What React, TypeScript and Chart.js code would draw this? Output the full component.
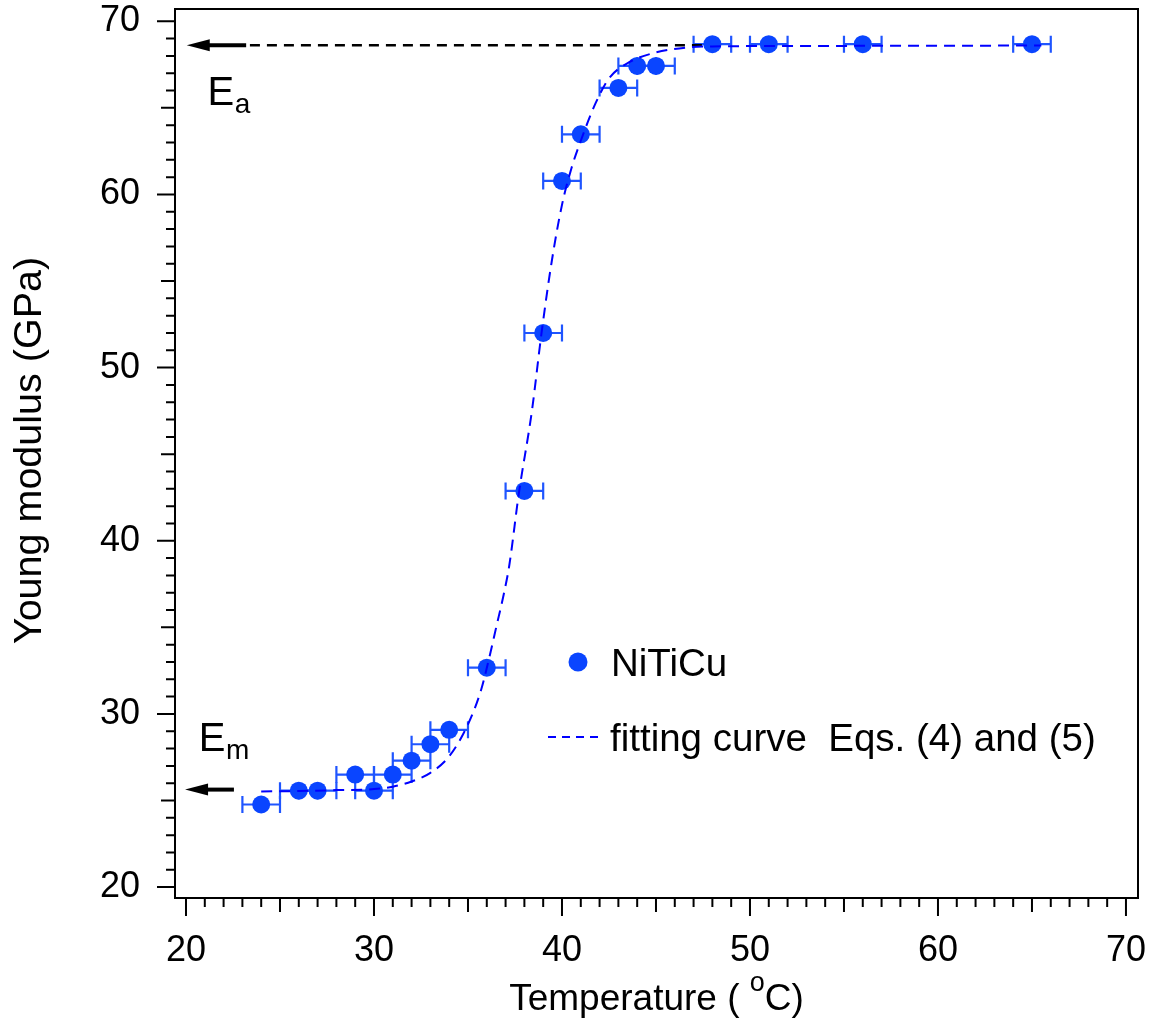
import React, { useEffect, useRef } from 'react';
import { Chart, registerables } from 'chart.js';

Chart.register(...registerables);

// ---- data ----
const tempC = [24, 26, 27, 29, 30, 31, 32, 33, 34, 36, 38, 39, 40, 41, 43, 44, 45, 48, 51, 56, 65];
const modulus = [24.77, 25.57, 25.57, 26.5, 25.57, 26.5, 27.3, 28.25, 29.08, 32.67, 42.88, 52.0, 60.78, 63.47, 66.15, 67.42, 67.42, 68.68, 68.68, 68.68, 68.68];
const tempErr = [1, 1, 1, 1, 1, 1, 1, 1, 1, 1, 1, 1, 1, 1, 1, 1, 1, 1, 1, 1, 1];

const fitT = [24, 26, 28, 30, 31, 32, 33, 34, 35, 35.7, 36.1, 36.5, 36.9, 37.2, 37.7, 38.4, 38.9, 39.45, 40.0, 40.5, 41.0, 41.8, 42.5, 43.6, 45.0, 46.8, 48, 55, 65.5];
const fitE = [25.52, 25.55, 25.6, 25.66, 25.8, 26.1, 26.6, 27.55, 29.4, 31.4, 33.1, 35.0, 36.9, 38.6, 42.7, 47.5, 51.9, 56.1, 59.4, 61.5, 63.1, 65.3, 66.7, 67.65, 68.2, 68.5, 68.55, 68.58, 68.6];

const refLineT = [23.4, 48];
const refLineE = [68.62, 68.62];

const arrowTailT = [23.2, 22.55];
const arrowTipT = [20.04, 19.95];
const arrowE = [68.62, 25.63];

const xTickLabels = [20, 30, 40, 50, 60, 70];
const yTickLabels = [20, 30, 40, 50, 60, 70];

const X_MIN = 19.415;
const X_MAX = 70.64;
const Y_MIN = 19.37;
const Y_MAX = 70.71;

const seriesName = 'NiTiCu';
const fitName = 'fitting curve  Eqs. (4) and (5)';
const xTitle = 'Temperature ( ';
const xTitleSup = 'o';
const xTitleEnd = 'C)';
const yTitle = 'Young modulus (GPa)';

const FONT = '"Liberation Sans", Arial, Helvetica, sans-serif';
const MARKER = '#0a45ff';
const ERRBAR = '#1f55ff';
const FIT = '#0000ff';

const extrasPlugin = {
  id: 'extras',
  beforeDatasetsDraw(chart: any) {
    const ctx = chart.ctx;
    const xs = chart.scales.x;
    const ys = chart.scales.y;
    ctx.save();
    ctx.strokeStyle = ERRBAR;
    ctx.lineWidth = 2.2;
    for (let i = 0; i < tempC.length; i++) {
      const x0 = xs.getPixelForValue(tempC[i] - tempErr[i]);
      const x1 = xs.getPixelForValue(tempC[i] + tempErr[i]);
      const y = ys.getPixelForValue(modulus[i]);
      ctx.beginPath();
      ctx.moveTo(x0, y);
      ctx.lineTo(x1, y);
      ctx.moveTo(x0, y - 8.5);
      ctx.lineTo(x0, y + 8.5);
      ctx.moveTo(x1, y - 8.5);
      ctx.lineTo(x1, y + 8.5);
      ctx.stroke();
    }
    ctx.restore();
  },
  afterDatasetsDraw(chart: any) {
    const ctx = chart.ctx;
    const xs = chart.scales.x;
    const ys = chart.scales.y;
    const a = chart.chartArea;
    ctx.save();

    // arrows
    ctx.fillStyle = '#000';
    ctx.strokeStyle = '#000';
    for (let i = 0; i < arrowE.length; i++) {
      const tx = xs.getPixelForValue(arrowTailT[i]);
      const hx = xs.getPixelForValue(arrowTipT[i]);
      const y = ys.getPixelForValue(arrowE[i]);
      const headLen = 23;
      ctx.lineWidth = 4;
      ctx.beginPath();
      ctx.moveTo(tx, y);
      ctx.lineTo(hx + headLen - 2, y);
      ctx.stroke();
      ctx.beginPath();
      ctx.moveTo(hx, y);
      ctx.lineTo(hx + headLen, y - 6);
      ctx.lineTo(hx + headLen, y + 6);
      ctx.closePath();
      ctx.fill();
    }

    // frame
    ctx.lineWidth = 2;
    ctx.strokeStyle = '#000';
    ctx.strokeRect(a.left, a.top, a.right - a.left, a.bottom - a.top);

    // tick marks
    ctx.beginPath();
    for (let v = 20; v <= 70; v++) {
      const len = v % 10 === 0 ? 18 : v % 5 === 0 ? 14 : 9;
      const px = xs.getPixelForValue(v);
      ctx.moveTo(px, a.bottom);
      ctx.lineTo(px, a.bottom + len);
      const py = ys.getPixelForValue(v);
      ctx.moveTo(a.left, py);
      ctx.lineTo(a.left - len, py);
    }
    ctx.stroke();

    // E labels
    ctx.fillStyle = '#000';
    ctx.textBaseline = 'alphabetic';
    ctx.textAlign = 'left';
    const drawE = (sub: string, xv: number, yv: number, subDrop: number) => {
      const x = xs.getPixelForValue(xv);
      const y = ys.getPixelForValue(yv);
      ctx.font = `40px ${FONT}`;
      ctx.fillText('E', x, y);
      const w = ctx.measureText('E').width;
      ctx.font = `28px ${FONT}`;
      ctx.fillText(sub, x + w + 0.5, y + subDrop);
    };
    drawE('a', 21.15, 65.15, 8);
    drawE('m', 20.68, 27.84, 8);

    // legend
    ctx.fillStyle = MARKER;
    ctx.beginPath();
    ctx.arc(578, 662, 9.5, 0, Math.PI * 2);
    ctx.fill();
    ctx.fillStyle = '#000';
    ctx.font = `38.5px ${FONT}`;
    ctx.fillText(seriesName, 611, 675.5);
    ctx.strokeStyle = FIT;
    ctx.lineWidth = 2;
    ctx.setLineDash([8, 6]);
    ctx.beginPath();
    ctx.moveTo(548, 737);
    ctx.lineTo(600, 737);
    ctx.stroke();
    ctx.setLineDash([]);
    ctx.fillText(fitName, 610, 750.5);

    // x title
    const cx = (a.left + a.right) / 2;
    ctx.font = `37px ${FONT}`;
    const w1 = ctx.measureText(xTitle).width;
    const w3 = ctx.measureText(xTitleEnd).width;
    ctx.font = `27px ${FONT}`;
    const w2 = ctx.measureText(xTitleSup).width;
    const total = w1 + w2 + w3;
    const x0 = cx - total / 2;
    const base = 1010;
    ctx.font = `37px ${FONT}`;
    ctx.fillText(xTitle, x0, base);
    ctx.font = `27px ${FONT}`;
    ctx.fillText(xTitleSup, x0 + w1, base - 19);
    ctx.font = `37px ${FONT}`;
    ctx.fillText(xTitleEnd, x0 + w1 + w2, base);

    // y title
    ctx.save();
    ctx.translate(30, (a.top + a.bottom) / 2 - 3);
    ctx.rotate(-Math.PI / 2);
    ctx.font = `39.5px ${FONT}`;
    ctx.textAlign = 'center';
    ctx.textBaseline = 'middle';
    ctx.fillText(yTitle, 0, 0);
    ctx.restore();

    ctx.restore();
  },
};

export default function App() {
  const ref = useRef<HTMLCanvasElement | null>(null);
  useEffect(() => {
    if (!ref.current) return;
    const pts = tempC.map((t, i) => ({ x: t, y: modulus[i] }));
    const fit = fitT.map((t, i) => ({ x: t, y: fitE[i] }));
    const refl = refLineT.map((t, i) => ({ x: t, y: refLineE[i] }));
    const chart = new Chart(ref.current, {
      type: 'line',
      data: {
        datasets: [
          {
            label: fitName,
            data: fit,
            borderColor: FIT,
            borderWidth: 2,
            borderDash: [11, 7],
            pointRadius: 0,
            fill: false,
            cubicInterpolationMode: 'monotone',
            order: 0,
          },
          {
            label: seriesName,
            data: pts,
            showLine: false,
            pointRadius: 9,
            pointBackgroundColor: MARKER,
            pointBorderWidth: 0,
            borderColor: MARKER,
            backgroundColor: MARKER,
            order: 1,
          },
          {
            label: 'Ea',
            data: refl,
            borderColor: '#000',
            borderWidth: 2.5,
            borderDash: [10, 7],
            pointRadius: 0,
            fill: false,
            order: 2,
          },
        ],
      } as any,
      options: {
        responsive: false,
        animation: false,
        devicePixelRatio: 1,
        layout: { padding: { left: 0, right: 16, top: 7, bottom: 0 } },
        plugins: { legend: { display: false }, tooltip: { enabled: false } },
        events: [],
        scales: {
          x: {
            type: 'linear',
            min: X_MIN,
            max: X_MAX,
            grid: { display: false },
            border: { display: false },
            ticks: { font: { family: FONT, size: 36 }, color: '#000', padding: 23, maxRotation: 0 },
            afterBuildTicks: (s: any) => {
              s.ticks = xTickLabels.map((v) => ({ value: v }));
            },
            afterFit: (s: any) => {
              s.height = 127;
              s.paddingLeft = 0;
              s.paddingRight = 0;
            },
          },
          y: {
            type: 'linear',
            min: Y_MIN,
            max: Y_MAX,
            grid: { display: false },
            border: { display: false },
            ticks: { font: { family: FONT, size: 36 }, color: '#000', padding: 27 },
            afterBuildTicks: (s: any) => {
              s.ticks = yTickLabels.map((v) => ({ value: v }));
            },
            afterFit: (s: any) => {
              s.width = 175;
              s.paddingTop = 0;
              s.paddingBottom = 0;
            },
          },
        },
      } as any,
      plugins: [extrasPlugin],
    });
    return () => chart.destroy();
  }, []);
  return (
    <div style={{ position: 'fixed', left: 0, top: 0, width: 1154, height: 1025, background: '#fff' }}>
      <canvas ref={ref} width={1154} height={1025} style={{ width: 1154, height: 1025, display: 'block' }} />
    </div>
  );
}
